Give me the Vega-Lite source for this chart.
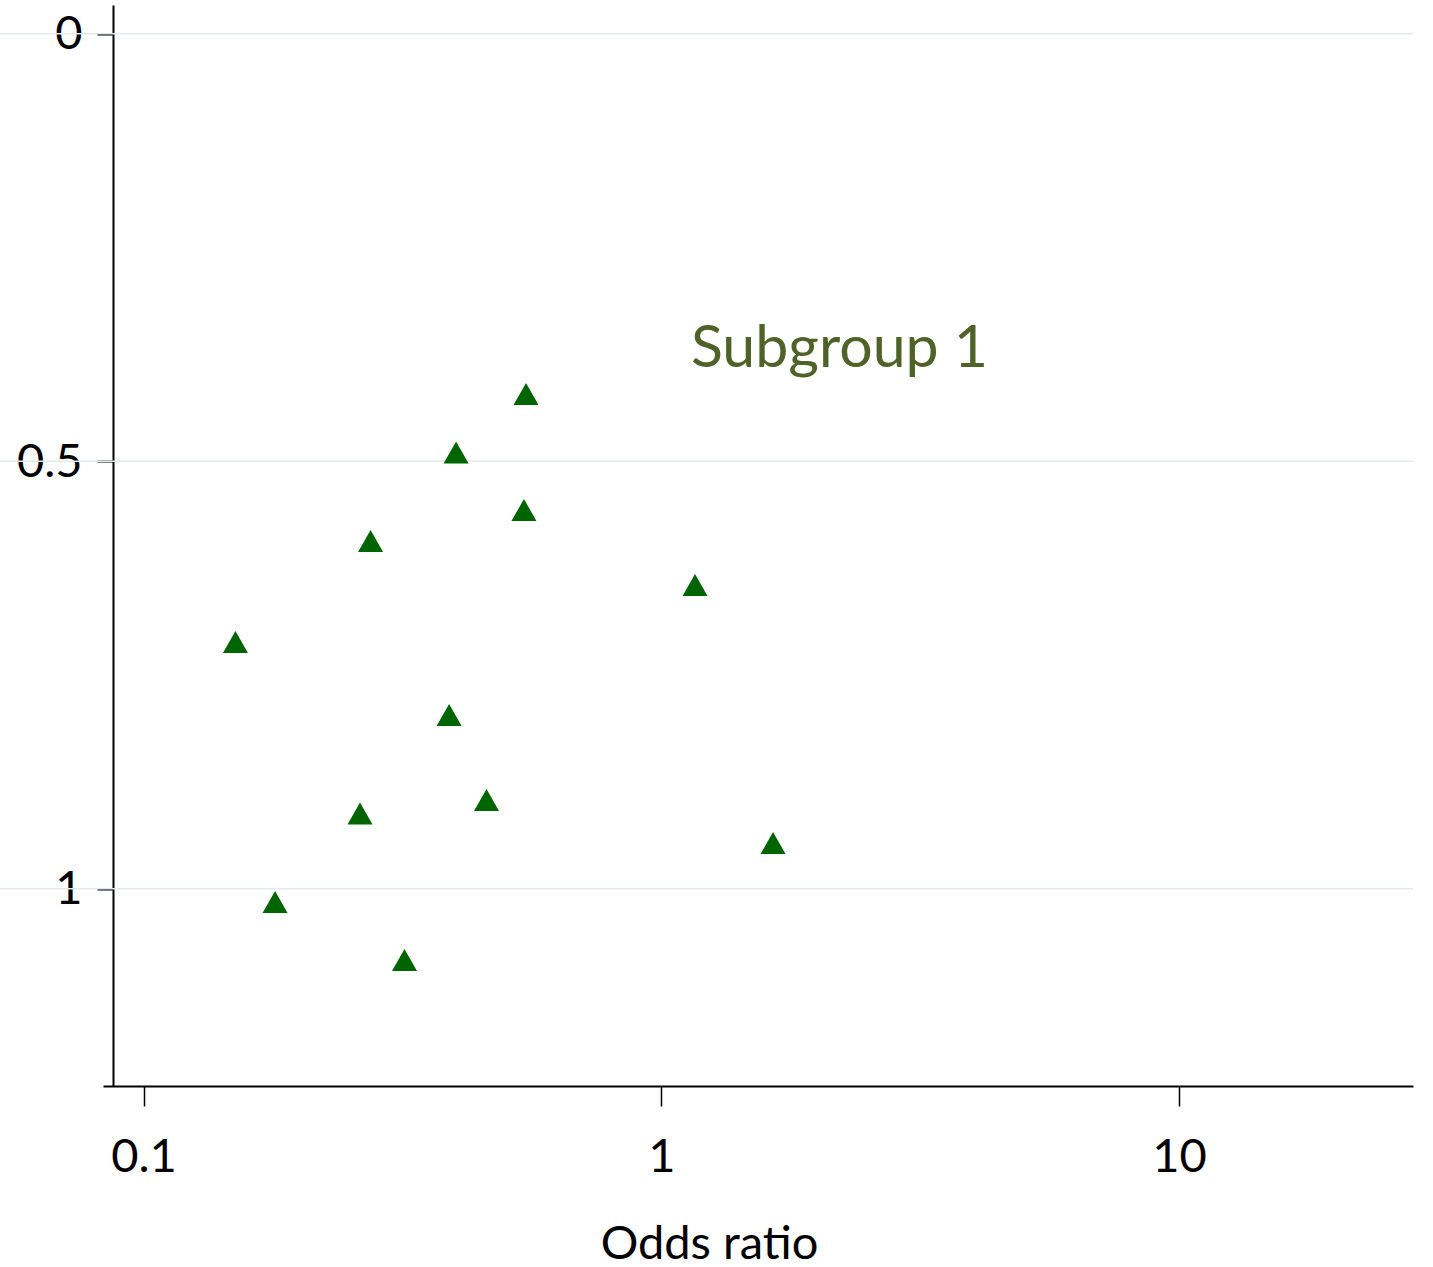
{
  "$schema": "https://vega.github.io/schema/vega-lite/v6.json",
  "width": 1310,
  "height": 1081,
  "autosize": {"type": "none"},
  "padding": {"left": 103, "top": 5, "right": 20, "bottom": 181},
  "background": "white",
  "config": {
    "view": {"stroke": null},
    "font": "Lato",
    "axisX": {
      "grid": false, "domainColor": "black", "domainWidth": 2,
      "tickColor": "black", "tickWidth": 1.5, "tickSize": 20,
      "labelFontSize": 47, "labelColor": "black", "labelPadding": 28, "labelFlush": false, "labelOverlap": false,
      "titleFontSize": 47, "titleFontWeight": "normal", "titleColor": "black",
      "titleX": 606, "titleY": 172, "titleBaseline": "alphabetic", "titleAlign": "center",
      "zindex": 1
    },
    "axisY": {
      "grid": false, "offset": -10, "domainColor": "black", "domainWidth": 2,
      "tickColor": "black", "tickWidth": 2, "tickSize": 16,
      "labelFontSize": 47, "labelColor": "black", "labelPadding": 15, "labelOffset": 1, "labelFlush": false, "labelOverlap": false,
      "zindex": 1
    }
  },
  "layer": [
    {
      "data": {"values": [{"se": 0}, {"se": 0.5}, {"se": 1}]},
      "mark": {"type": "rule", "color": "#e1eaee", "strokeWidth": 1.5},
      "encoding": {
        "y": {"field": "se", "type": "quantitative", "scale": {"domain": [-0.0336, 1.2308], "reverse": true, "nice": false, "zero": false}, "axis": {"values": [0, 0.5, 1], "format": "~g", "title": null}},
        "x": {"datum": 0.0528, "type": "quantitative", "scale": {"type": "log", "domain": [0.08351, 28.31], "nice": false}, "axis": {"values": [0.1, 1, 10], "format": "~g", "title": "Odds ratio"}},
        "x2": {"datum": 28.31}
      }
    },
    {
      "data": {"values": [
        {"or": 0.548, "se": 0.4214},
        {"or": 0.4015, "se": 0.4898},
        {"or": 0.543, "se": 0.5571},
        {"or": 0.2745, "se": 0.5933},
        {"or": 1.162, "se": 0.6448},
        {"or": 0.1505, "se": 0.7115},
        {"or": 0.3892, "se": 0.7968},
        {"or": 0.4597, "se": 0.8963},
        {"or": 0.2619, "se": 0.9121},
        {"or": 1.644, "se": 0.9466},
        {"or": 0.1795, "se": 1.0156},
        {"or": 0.3192, "se": 1.0834}
      ]},
      "mark": {"type": "point", "shape": "M0,-0.88L1,0.88L-1,0.88Z", "filled": true, "color": "#006400", "size": 625, "opacity": 1, "strokeWidth": 0},
      "encoding": {
        "x": {"field": "or", "type": "quantitative", "scale": {"type": "log", "domain": [0.08351, 28.31], "nice": false}, "axis": {"values": [0.1, 1, 10], "format": "~g", "title": "Odds ratio"}},
        "y": {"field": "se", "type": "quantitative", "scale": {"domain": [-0.0336, 1.2308], "reverse": true, "nice": false, "zero": false}, "axis": {"values": [0, 0.5, 1], "format": "~g", "title": null}}
      }
    },
    {
      "data": {"values": [{"label": "Subgroup 1", "or": 1.141, "se": 0.3895}]},
      "mark": {"type": "text", "align": "left", "baseline": "alphabetic", "fontSize": 59, "color": "#4F6228", "font": "Lato"},
      "encoding": {
        "x": {"field": "or", "type": "quantitative", "scale": {"type": "log", "domain": [0.08351, 28.31], "nice": false}, "axis": {"values": [0.1, 1, 10], "format": "~g", "title": "Odds ratio"}},
        "y": {"field": "se", "type": "quantitative", "scale": {"domain": [-0.0336, 1.2308], "reverse": true, "nice": false, "zero": false}, "axis": {"values": [0, 0.5, 1], "format": "~g", "title": null}},
        "text": {"field": "label"}
      }
    }
  ]
}
